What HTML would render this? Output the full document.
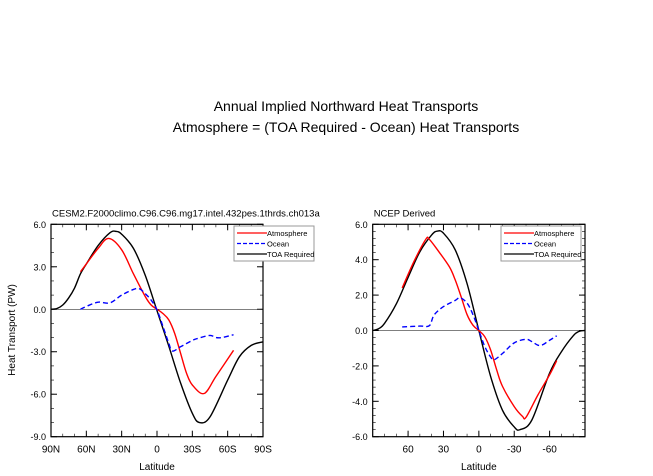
<!DOCTYPE html>
<html><head><meta charset="utf-8"><style>
body{margin:0;background:#fff}
svg{display:block;font-family:"Liberation Sans",sans-serif}
</style></head><body>
<svg id="s" width="653" height="476" viewBox="0 0 653 476">
<text x="346" y="111" font-size="14" text-anchor="middle">Annual Implied Northward Heat Transports</text>
<text x="346" y="132" font-size="14" text-anchor="middle">Atmosphere = (TOA Required - Ocean) Heat Transports</text>
</svg>
<script>
const latsL_toa=[90,85,80,75,70,65,60,50,40,35,30,20,10,0,-10,-20,-30,-36,-45,-60,-70,-80,-90];
const valsL_toa=[0,0.05,0.3,0.8,1.5,2.5,3.2,4.5,5.4,5.5,5.3,4.3,2.4,-0.1,-2.6,-5.2,-7.35,-8.0,-7.6,-5.0,-3.35,-2.55,-2.3];
const latsL_atm=[65,60,50,41,30,20,10,5,0,-5,-10,-15,-20,-25,-30,-40,-50,-65];
const valsL_atm=[2.65,3.2,4.3,5.0,4.2,2.5,0.9,0.3,0,-0.3,-0.75,-1.7,-3.1,-4.5,-5.35,-5.95,-4.75,-2.9];
const latsL_ocn=[65,60,50,40,30,20,15,10,5,0,-5,-10,-13,-20,-30,-35,-45,-50,-55,-65];
const valsL_ocn=[0,0.2,0.5,0.45,1.0,1.4,1.45,1.1,0.65,-0.05,-1.2,-2.4,-2.95,-2.65,-2.2,-2.05,-1.85,-2.0,-2.0,-1.8];
const latsR_toa=[90,85,80,70,60,50,40,35,30,20,10,0,-10,-20,-30,-35,-45,-60,-70,-80,-85,-90];
const valsR_toa=[0,0.1,0.4,1.5,3.0,4.45,5.4,5.62,5.5,4.55,2.65,0,-2.6,-4.5,-5.45,-5.6,-5.05,-2.4,-1.2,-0.3,-0.05,0];
const latsR_atm=[65,55,45,42,35,25,20,15,10,5,0,-5,-10,-15,-20,-30,-37,-40,-50,-60,-66];
const valsR_atm=[2.4,3.9,5.15,5.15,4.55,3.6,2.85,1.9,0.9,0.3,0,-0.35,-1.1,-2.2,-3.15,-4.3,-4.85,-4.9,-3.65,-2.5,-1.7];
const latsR_ocn=[65,50,42,38,30,20,16,10,5,0,-5,-10,-13,-20,-30,-40,-45,-52,-60,-66];
const valsR_ocn=[0.2,0.25,0.27,0.87,1.35,1.7,1.85,1.55,0.9,0,-0.9,-1.5,-1.65,-1.3,-0.7,-0.5,-0.63,-0.85,-0.55,-0.3];
const ticksL_y=[6,3,0,-3,-6,-9], tickLabL_y=["6.0","3.0","0.0","-3.0","-6.0","-9.0"];
const ticksL_x=[90,60,30,0,-30,-60,-90], tickLabL_x=["90N","60N","30N","0","30S","60S","90S"];
const ticksR_y=[6,4,2,0,-2,-4,-6], tickLabR_y=["6.0","4.0","2.0","0.0","-2.0","-4.0","-6.0"];
const ticksR_x=[60,30,0,-30,-60], tickLabR_x=["60","30","0","-30","-60"];
const NS="http://www.w3.org/2000/svg", svg=document.getElementById('s');
function mk(t,a,p){const e=document.createElementNS(NS,t);for(const k in a)e.setAttribute(k,a[k]);(p||svg).appendChild(e);return e;}
function smooth(P){let d='M'+P[0][0]+','+P[0][1];
  for(let i=0;i<P.length-1;i++){const p0=P[Math.max(0,i-1)],p1=P[i],p2=P[i+1],p3=P[Math.min(P.length-1,i+2)];
    const c1=[p1[0]+(p2[0]-p0[0])/6,p1[1]+(p2[1]-p0[1])/6],c2=[p2[0]-(p3[0]-p1[0])/6,p2[1]-(p3[1]-p1[1])/6];
    d+=' C'+c1[0]+','+c1[1]+' '+c2[0]+','+c2[1]+' '+p2[0]+','+p2[1];}
  return d;}
function panel(o){
  const g=mk('g',{});
  
  
  const X=l=>o.x0+(90-l)/180*(o.x1-o.x0), Y=v=>o.y0+(o.ymax-v)/(o.ymax-o.ymin)*(o.y1-o.y0);
  const z=mk('line',{x1:o.x0,x2:o.x1,y1:Y(0),y2:Y(0),stroke:'#000','stroke-width':0.6},g);
  
  
  for(let l=90;l>=-90;l-=o.xminor){for(const yy of [o.y0,o.y1]){const d=yy==o.y0?1:-1;mk('line',{x1:X(l),x2:X(l),y1:yy,y2:yy+3*d,stroke:'#000','stroke-width':0.6},g);}}
  for(let v=o.ymin;v<=o.ymax+1e-6;v+=o.yminor){for(const xx of [o.x0,o.x1]){const d=xx==o.x0?1:-1;mk('line',{x1:xx,x2:xx+3*d,y1:Y(v),y2:Y(v),stroke:'#000','stroke-width':0.6},g);}}
  o.ty.forEach((v,i)=>{for(const xx of [o.x0,o.x1]){const d=xx==o.x0?1:-1;mk('line',{x1:xx,x2:xx+6*d,y1:Y(v),y2:Y(v),stroke:'#000','stroke-width':1},g);}
    const t=mk('text',{x:o.x0-5,y:Y(v)+3.5,'font-size':9,'text-anchor':'end'},g);t.textContent=o.tyl[i];
    
    });
  o.tx.forEach((l,i)=>{for(const yy of [o.y0,o.y1]){const d=yy==o.y0?1:-1;mk('line',{x1:X(l),x2:X(l),y1:yy,y2:yy+6*d,stroke:'#000','stroke-width':1},g);}
    const t=mk('text',{x:X(l),y:o.y1+16,'font-size':10,'text-anchor':'middle'},g);t.textContent=o.txl[i];
    
    });
  const r=mk('rect',{x:o.x0,y:o.y0,width:o.x1-o.x0,height:o.y1-o.y0,fill:'none',stroke:'#000','stroke-width':1.2},g);
  
  
  const ser=[[o.toa[0],o.toa[1],'#000','','toa-required-line'],[o.atm[0],o.atm[1],'#f00','','atmosphere-line'],[o.ocn[0],o.ocn[1],'#00f','5,3','ocean-line']];
  ser.forEach(s=>{const p=mk('path',{d:smooth(s[0].map((l,i)=>[X(l),Y(s[1][i])])),fill:'none',stroke:s[2],'stroke-width':1.4,'stroke-dasharray':s[3],'stroke-linejoin':'round'},g);
    
    });
  const t=mk('text',{x:o.x0+1,y:o.y0-8,'font-size':9.5},g);t.textContent=o.title;
  
  
  const xl=mk('text',{x:(o.x0+o.x1)/2,y:470,'font-size':10,'text-anchor':'middle'},g);xl.textContent='Latitude';
  
  
  const L=mk('g',{},g);
  
  
  mk('rect',{x:o.lx,y:226,width:80,height:35,fill:'#fff',stroke:'#999','stroke-width':1},L);
  [['Atmosphere','#f00',''],['Ocean','#00f','4,2'],['TOA Required','#000','']].forEach((e,i)=>{
    const yy=233+i*10.5;
    mk('line',{x1:o.lx+3,x2:o.lx+33,y1:yy,y2:yy,stroke:e[1],'stroke-width':1.3,'stroke-dasharray':e[2]},L);
    const tt=mk('text',{x:o.lx+33,y:yy+3,'font-size':7.5},L);tt.textContent=e[0];
    
    });
}
panel({name:'cesm-panel',x0:51,x1:263,y0:224.3,y1:436.7,ymin:-9,ymax:6,yminor:1,xminor:10,ty:ticksL_y,tyl:tickLabL_y,tx:ticksL_x,txl:tickLabL_x,
 toa:[latsL_toa,valsL_toa],atm:[latsL_atm,valsL_atm],ocn:[latsL_ocn,valsL_ocn],title:'CESM2.F2000climo.C96.C96.mg17.intel.432pes.1thrds.ch013a',lx:234});
panel({name:'ncep-panel',x0:372.7,x1:585,y0:224.3,y1:436.7,ymin:-6,ymax:6,yminor:0.4,xminor:10,ty:ticksR_y,tyl:tickLabR_y,tx:ticksR_x,txl:tickLabR_x,
 toa:[latsR_toa,valsR_toa],atm:[latsR_atm,valsR_atm],ocn:[latsR_ocn,valsR_ocn],title:'NCEP Derived',lx:501});
const yt=mk('text',{x:15,y:330,'font-size':10,'text-anchor':'middle',transform:'rotate(-90 15 330)'});
yt.textContent='Heat Transport (PW)';


</script>
</body></html>
